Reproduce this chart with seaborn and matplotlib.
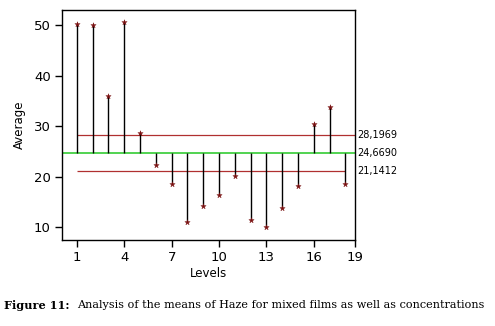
import matplotlib
matplotlib.use("Agg")
import matplotlib.pyplot as plt
import seaborn as sns
import pandas as pd

# niveis e medias
levels = list(range(1, 19))
means = [50.3, 50.1, 35.9, 50.6, 28.6, 22.3, 18.6, 11.1, 14.3,
         16.4, 20.2, 11.4, 10.0, 13.8, 18.2, 30.5, 33.9, 18.5]
center = 24.6690
upper = 28.1969
lower = 21.1412
xtick_pos = [1, 4, 7, 10, 13, 16, 18.6]
xtick_labels = ["1", "4", "7", "10", "13", "16", "19"]
ytick_pos = [10, 20, 30, 40, 50]

df = pd.DataFrame({"Levels": levels, "Average": means})

sns.set_style("ticks")
plt.rcParams["font.family"] = ["DejaVu Sans"]
plt.rcParams["text.color"] = "black"
plt.rcParams["xtick.color"] = "black"
plt.rcParams["ytick.color"] = "black"
plt.rcParams["axes.labelcolor"] = "black"

fig = plt.figure(figsize=(4.95, 3.26), dpi=100)
ax = fig.add_axes([0.125, 0.264, 0.592, 0.705])

# linhas de referencia
ax.axhline(center, color="#33cc33", lw=1.2, zorder=1)
ax.hlines(upper, levels[0], xtick_pos[-1], color="#b03030", lw=0.9, zorder=1)
ax.hlines(lower, levels[0], levels[-1], color="#b03030", lw=0.9, zorder=1)

# hastes a partir da media geral
ax.vlines(df["Levels"], center, df["Average"], color="black", lw=1.0, zorder=2)
sns.scatterplot(data=df, x="Levels", y="Average", marker="*", s=16,
                color="#7a1010", edgecolor="#7a1010", linewidth=0.3,
                ax=ax, zorder=3)

ax.set_xlim(0.05, 18.6)
ax.set_ylim(7.5, 53.0)
ax.set_xticks(xtick_pos)
ax.set_xticklabels(xtick_labels)
ax.set_yticks(ytick_pos)
ax.tick_params(labelsize=9.5, length=5, width=1, pad=3)
for s in ax.spines.values():
    s.set_visible(True)
    s.set_color("black")
    s.set_linewidth(1.0)

ax.set_xlabel("Levels", fontsize=8.5, labelpad=2)
ax.set_ylabel("Average", fontsize=8.5, labelpad=6)

# rotulos das linhas
for v in (upper, center, lower):
    ax.text(1.008, v, f"{v:.4f}".replace(".", ","), transform=ax.get_yaxis_transform(),
            fontsize=7, va="center", ha="left")

# legenda da figura
fig.text(0.008, 0.063, "Figure 11:", fontsize=8.15, fontweight="bold",
         family="DejaVu Serif", va="center", ha="left")
fig.text(0.156, 0.063,
         "Analysis of the means of Haze for mixed films as well as concentrations",
         fontsize=8.15, family="DejaVu Serif", va="center", ha="left")

fig.savefig("out.png", dpi=100, facecolor="white")
